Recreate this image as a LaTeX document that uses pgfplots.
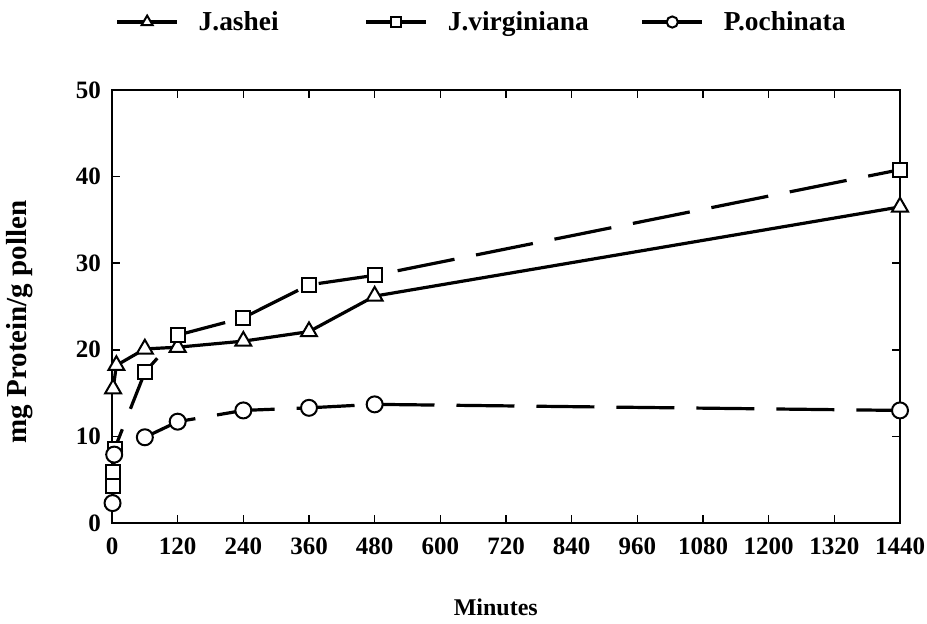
\documentclass[border=0pt]{standalone}
\usepackage{fontspec}
\setmainfont{Liberation Serif}
\usepackage{pgfplots}
\pgfplotsset{compat=1.18}
\begin{document}
\begin{tikzpicture}[font=\fontsize{12.5}{15}\selectfont\bfseries]
\useasboundingbox (-56pt,-50pt) rectangle (407.5pt,261.5pt);
\begin{axis}[
  scale only axis, width=394pt, height=216.5pt,
  at={(0,0)}, anchor=south west,
  xmin=0, xmax=1440, ymin=0, ymax=50,
  xtick={0,120,...,1440}, ytick={0,10,...,50},
  minor tick num=0,
  tick align=inside, major tick length=4pt,
  axis line style={line width=1pt},
  every tick/.style={line width=0.8pt, black},
  axis on top,
  /pgf/number format/assume math mode=true,
  /pgf/number format/set thousands separator={},
  ticklabel style={font=\fontsize{12.5}{15}\selectfont\bfseries},
  xticklabel style={yshift=-4pt},
  yticklabel style={xshift=-2pt},
  xlabel={Minutes},
  xlabel style={at={(axis description cs:0.487,-0.194)}, anchor=center, font=\fontsize{12}{14}\selectfont\bfseries},
  ylabel={mg Protein/g pollen},
  ylabel style={at={(axis description cs:-0.117,0.464)}, anchor=center, font=\fontsize{14.5}{17}\selectfont\bfseries},
  legend columns=3,
  legend style={at={(axis description cs:0.004,1.157)}, anchor=west, draw=none, fill=none, inner sep=0pt,
    font=\fontsize{13.7}{16}\selectfont\bfseries,
    /tikz/every odd column/.append style={column sep=8pt},
    /tikz/every even column/.append style={column sep=24pt}},
  legend image code/.code={\draw[mark repeat=2,mark phase=2,#1,solid,every mark/.append style={scale=0.7}] plot coordinates {(0pt,0pt) (15pt,0pt) (30pt,0pt)};},
]
\addplot[black, line width=1.6pt, mark=triangle*, mark size=4.6pt, mark options={fill=white, solid, line width=1pt}]
  coordinates {(2,15.5) (8,18.2) (60,20.1) (120,20.3) (240,21.0) (360,22.1) (480,26.2) (1440,36.5)};
\addlegendentry{J.ashei\hspace*{17pt}}
\addplot[black, line width=1.6pt, dash pattern=on 29pt off 11pt, mark=square*, mark size=3.5pt, mark options={fill=white, solid, line width=1pt}]
  coordinates {(1,4.3) (2,5.9) (5,8.6) (60,17.4) (120,21.7) (240,23.7) (360,27.5) (480,28.6) (1440,40.8)};
\addlegendentry{J.virginiana}
\addplot[black, line width=1.6pt, dash pattern=on 29pt off 11pt, mark=*, mark size=4pt, mark options={fill=white, solid, line width=1pt}]
  coordinates {(1,2.3) (4,7.9) (60,9.9) (120,11.7) (240,13.0) (360,13.3) (480,13.7) (1440,13.0)};
\addlegendentry{P.ochinata}
\end{axis}
\end{tikzpicture}
\end{document}
